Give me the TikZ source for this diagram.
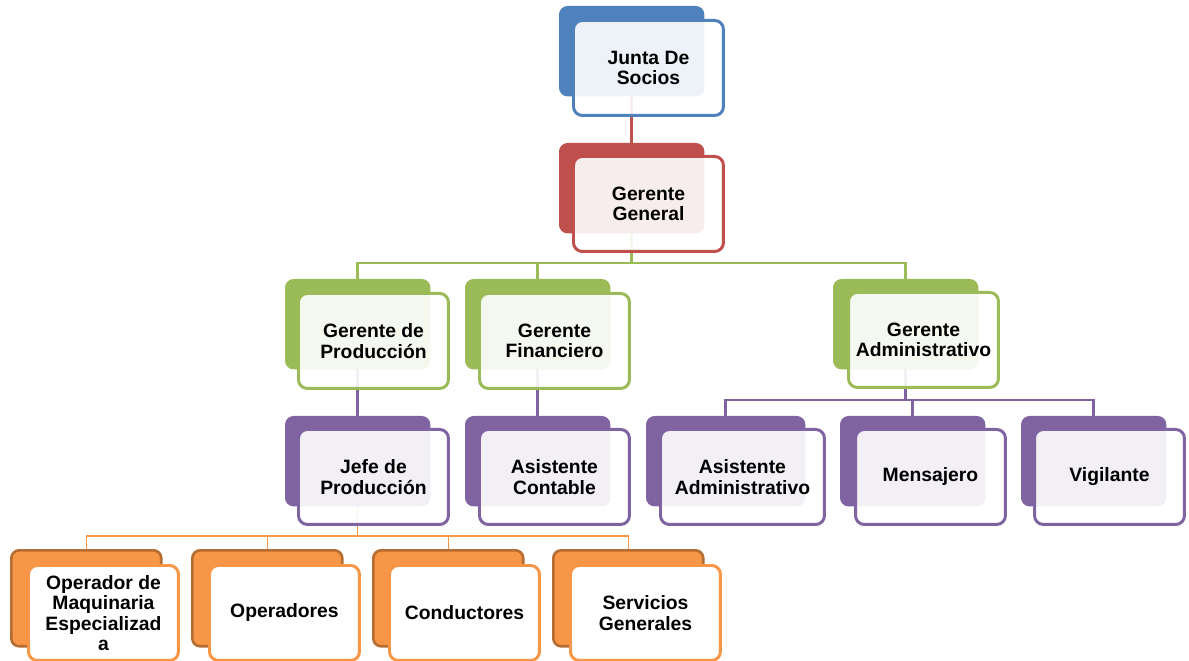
\documentclass[tikz,border=0pt]{standalone}
\usepackage{fontspec}
\setmainfont{Liberation Sans}
\usepackage{tikz}
\usetikzlibrary{backgrounds}
\usepackage{xcolor}

\definecolor{azul}{HTML}{4F81BD}
\definecolor{rojo}{HTML}{C0504D}
\definecolor{verde}{HTML}{9BBB59}
\definecolor{morado}{HTML}{8064A2}
\definecolor{naranja}{HTML}{F79646}
\definecolor{naranjaosc}{HTML}{B66D31}

\tikzset{
	atras/.style={rounded corners=4.5pt, fill=#1, draw=#1, line width=0.8pt, anchor=north west, inner sep=0pt, minimum width=2.88cm, minimum height=1.78cm},
	frente/.style={rounded corners=5pt, draw=#1, line width=1.7pt, fill=white, fill opacity=0.9, text opacity=1, anchor=north west, inner sep=0pt, align=center, minimum width=3cm, minimum height=1.9cm, font=\fontsize{11}{11.7}\selectfont\bfseries},
	linea/.style={draw=#1, line width=1.7pt}
}

\begin{document}
\begin{tikzpicture}[x=0.02cm, y=-0.02cm]
		\useasboundingbox (0,0) rectangle (1189,661);
		% junta y gerencia
		\node[atras=azul] (junta) at (559,6) {};
		\node[frente=azul] (junta-f) at (572,19) {Junta De\\Socios};
		\node[atras=rojo] (ggen) at (559,143) {};
		\node[frente=rojo] (ggen-f) at (572,155) {Gerente\\General};
		% gerentes
		\node[atras=verde] (gprod) at (285,279) {};
		\node[frente=verde] (gprod-f) at (297,292) {Gerente de\\Producción};
		\node[atras=verde] (gfin) at (465,279) {};
		\node[frente=verde] (gfin-f) at (478,292) {Gerente\\Financiero};
		\node[atras=verde] (gadm) at (833,279) {};
		\node[frente=verde] (gadm-f) at (847,291) {Gerente\\Administrativo};
		% jefes y asistentes
		\node[atras=morado] (jefe) at (285,416) {};
		\node[frente=morado] (jefe-f) at (297,428) {Jefe de\\Producción};
		\node[atras=morado] (acont) at (465,416) {};
		\node[frente=morado] (acont-f) at (478,428) {Asistente\\Contable};
		\node[atras=morado, minimum width=3.16cm] (aadm) at (646,416) {};
		\node[frente=morado, minimum width=3.28cm] (aadm-f) at (659,428) {Asistente\\Administrativo};
		\node[atras=morado] (mens) at (840,416) {};
		\node[frente=morado] (mens-f) at (854,428) {Mensajero};
		\node[atras=morado] (vigi) at (1021,416) {};
		\node[frente=morado] (vigi-f) at (1033,428) {Vigilante};
		% operativos
		\node[atras=naranja, draw=naranjaosc, line width=1.5pt, minimum width=3cm, minimum height=1.92cm] (opmaq) at (10,549) {};
		\node[frente=naranja, fill opacity=1] (opmaq-f) at (27,564) {Operador de\\Maquinaria\\Especializad\\a};
		\node[atras=naranja, draw=naranjaosc, line width=1.5pt, minimum width=3cm, minimum height=1.92cm] (oper) at (191,549) {};
		\node[frente=naranja, fill opacity=1] (oper-f) at (208,564) {Operadores};
		\node[atras=naranja, draw=naranjaosc, line width=1.5pt, minimum width=3cm, minimum height=1.92cm] (cond) at (372,549) {};
		\node[frente=naranja, fill opacity=1] (cond-f) at (388,564) {Conductores};
		\node[atras=naranja, draw=naranjaosc, line width=1.5pt, minimum width=3cm, minimum height=1.92cm] (serv) at (552,549) {};
		\node[frente=naranja, fill opacity=1] (serv-f) at (569,564) {Servicios\\Generales};
		% conectores
		\coordinate (bus1) at (630,263);
		\coordinate (bus2) at (905,400);
		\coordinate (bus3) at (356,536);
		\begin{pgfonlayer}{background}
		\draw[linea=rojo] (junta.south) -- (ggen.north);
		\draw[linea=verde] (ggen.south) -- (ggen.south |- bus1) -| (gprod.north) (ggen.south |- bus1) -| (gfin.north) (ggen.south |- bus1) -| (gadm.north);
		\draw[linea=morado] (gprod.south) -- (jefe.north) (gfin.south) -- (acont.north);
		\draw[linea=morado] (gadm.south) -- (gadm.south |- bus2) -| (aadm.north) (gadm.south |- bus2) -| (mens.north) (gadm.south |- bus2) -| (vigi.north);
		\draw[linea=naranja, line width=0.8pt] (jefe.south) -- (jefe.south |- bus3) -| (opmaq.north) (jefe.south |- bus3) -| (oper.north) (jefe.south |- bus3) -| (cond.north) (jefe.south |- bus3) -| (serv.north);
		\end{pgfonlayer}
	\end{tikzpicture}
\end{document}
